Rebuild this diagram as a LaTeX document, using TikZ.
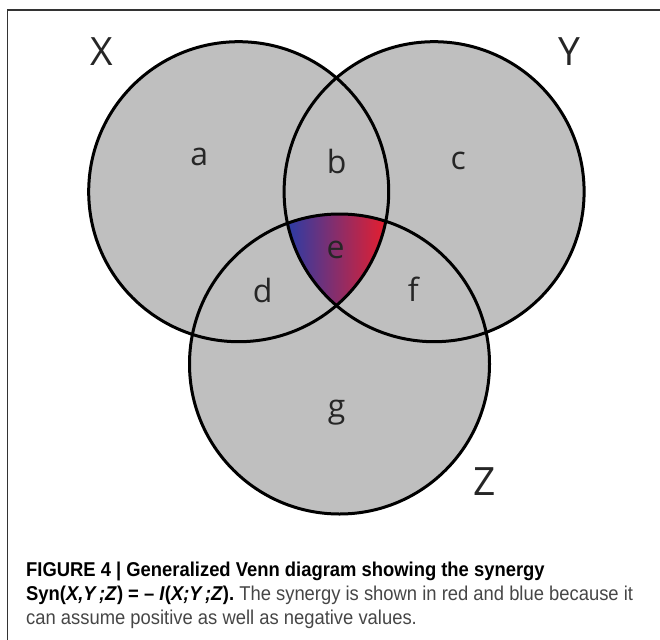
\documentclass[tikz,border=0pt]{standalone}
\usepackage{fontspec}
\setmainfont{Open Sans}
\newfontfamily\capfont[FakeStretch=0.92]{Liberation Sans}
\definecolor{vennfill}{RGB}{191,191,191}
\definecolor{synblue}{RGB}{45,60,165}
\definecolor{synred}{RGB}{232,30,45}
\definecolor{captext}{RGB}{70,70,70}
\tikzset{
	setlbl/.style={font=\fontsize{32}{36}\selectfont, text=black!85, inner sep=0pt},
	varlbl/.style={font=\fontsize{39}{44}\selectfont, text=black!85, inner sep=0pt},
	capline/.style={anchor=base west, inner sep=0pt, text=captext, font=\capfont\fontsize{20}{24}\selectfont}
}
\begin{document}
\begin{tikzpicture}[x=1pt, y=-1pt]
	\useasboundingbox (0,0) rectangle (660,639);
	\coordinate (cx) at (238.7,191.7);
	\coordinate (cy) at (434.1,191.7);
	\coordinate (cz) at (339.5,364);
	\draw[black!80, line width=1.3pt] (7.5,645) -- (7.5,10) -- (665,10);
	\foreach \c in {cx,cy,cz} \fill[vennfill] (\c) circle[radius=150pt];
	\begin{scope}
		\clip (cx) circle[radius=150pt];
		\clip (cy) circle[radius=150pt];
		\clip (cz) circle[radius=150pt];
		\shade[left color=synblue, right color=synred] (288,215) rectangle (387,310);
	\end{scope}
	\foreach \c in {cx,cy,cz} \draw[line width=3pt] (\c) circle[radius=150pt];
	\node[varlbl] (lx) at (101.7,51.7) {X};
	\node[varlbl] (ly) at (569,51.7) {Y};
	\node[varlbl] (lz) at (485,481.7) {Z};
	\node[setlbl] (ra) at (199.3,157) {a};
	\node[setlbl] (rb) at (336.7,161) {b};
	\node[setlbl] (rc) at (458.3,161) {c};
	\node[setlbl] (rd) at (262.7,290) {d};
	\node[setlbl] (re) at (335.7,250) {e};
	\node[setlbl] (rf) at (413.3,289) {f};
	\node[setlbl] (rg) at (336.7,412.5) {g};
	\node[capline] (cap1) at (26,576) {\color{black}\bfseries FIGURE 4 | Generalized Venn diagram showing the synergy};
	\node[capline] (cap2) at (26,600) {{\color{black}\bfseries Syn(\textit{X,Y\,;Z}) = \textendash\ \textit{I}(\textit{X;Y\,;Z}).} The synergy is shown in red and blue because it};
	\node[capline] (cap3) at (26,624) {can assume positive as well as negative values.};
\end{tikzpicture}
\end{document}
